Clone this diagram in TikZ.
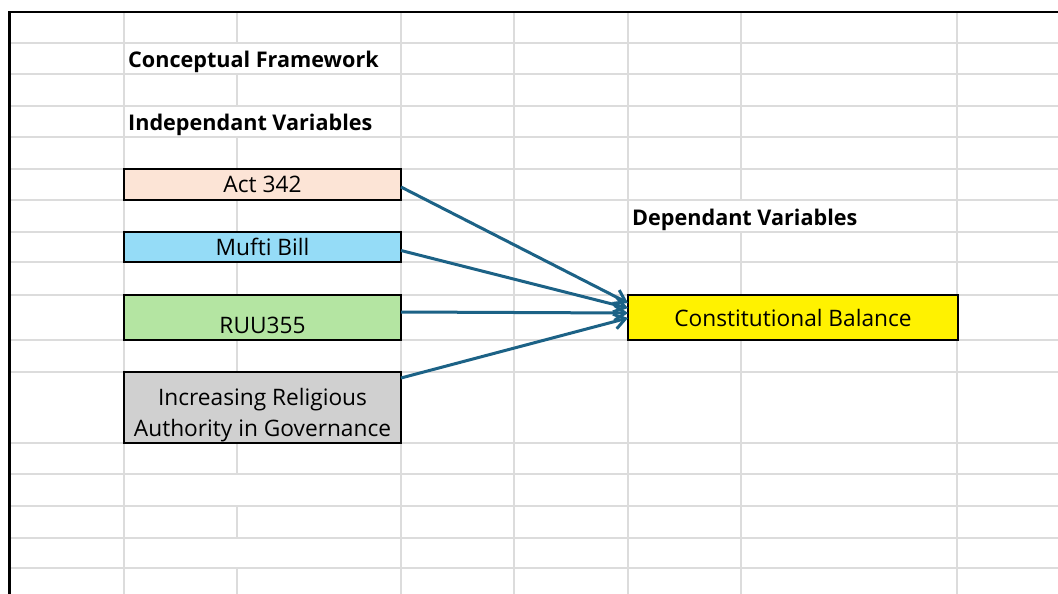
\documentclass[tikz,border=0pt]{standalone}
\usepackage{fontspec}
\setmainfont{Open Sans}
\usetikzlibrary{arrows.meta}
\definecolor{gridc}{RGB}{220,220,220}
\definecolor{peach}{RGB}{252,228,214}
\definecolor{skyb}{RGB}{149,220,247}
\definecolor{lgreen}{RGB}{180,229,162}
\definecolor{lgrey}{RGB}{208,208,208}
\definecolor{arrc}{RGB}{28,98,134}
\newcommand{\regfont}{\fontsize{22.7}{31}\selectfont}
\newcommand{\hdrfont}{\fontsize{21.6}{26}\selectfont\bfseries}
\begin{document}
\begin{tikzpicture}[x=1pt,y=-1pt,
  gridline/.style={draw=gridc,line width=2pt},
  varbox/.style={draw=black,line width=1.8pt,inner sep=0pt,outer sep=0pt,anchor=north west,minimum width=277pt,font=\regfont,align=center},
  hdr/.style={anchor=base west,inner sep=0pt,font=\hdrfont},
  txt/.style={inner sep=0pt,font=\regfont,align=center},
  arr/.style={draw=arrc,line width=3pt,-{Straight Barb[length=11pt,width=15pt]}}]
\useasboundingbox (0,0) rectangle (1058,594);
\fill[white] (0,0) rectangle (1058,594);
% horizontal grid lines
\foreach \yy in {43,74,106,137,169,200,232,262,295,340,372,443,474,506,538,568}
  \draw[gridline] (10,\yy) -- (1058,\yy);
% vertical grid lines
\foreach \xx in {124,401,514,628,957}
  \draw[gridline] (\xx,12) -- (\xx,594);
\foreach \a/\b in {12/43,74/106,137/474,506/538,568/594}
  \draw[gridline] (237,\a) -- (237,\b);
\foreach \a/\b in {12/200,232/594}
  \draw[gridline] (741,\a) -- (741,\b);
% sheet border
\draw[line width=2.5pt] (9.5,594) -- (9.5,12) -- (1058,12);
% headers
\node[hdr] (title) at (128,67.5) {Conceptual Framework};
\node[hdr] (indep) at (128,130) {Independant Variables};
\node[hdr] (dep) at (632,225) {Dependant Variables};
% boxes
\node[varbox,fill=peach,minimum height=31pt] (act) at (124,169) {Act 342};
\node[varbox,fill=skyb,minimum height=30pt] (mufti) at (124,232) {Mufti Bill};
\node[varbox,fill=lgreen,minimum height=45pt] (ruu) at (124,295) {};
\node[txt] (ruut) at (262.5,325) {RUU355};
\node[varbox,fill=lgrey,minimum height=71pt] (inc) at (124,372) {};
\node[txt] (inct) at (262.5,415) {Increasing Religious\\Authority in Governance};
\node[varbox,fill=yellow,minimum width=330pt,minimum height=45pt] (cb) at (628,295) {Constitutional Balance};
% arrows
\draw[arr] ([yshift=-2.5pt]act.east) -- ([yshift=14.5pt]cb.west);
\draw[arr] ([yshift=-3.5pt]mufti.east) -- ([yshift=9.5pt]cb.west);
\draw[arr] ([yshift=5.5pt]ruu.east) -- ([yshift=4.5pt]cb.west);
\draw[arr] ([yshift=29.5pt]inc.east) -- ([yshift=-0.5pt]cb.west);
\end{tikzpicture}
\end{document}
